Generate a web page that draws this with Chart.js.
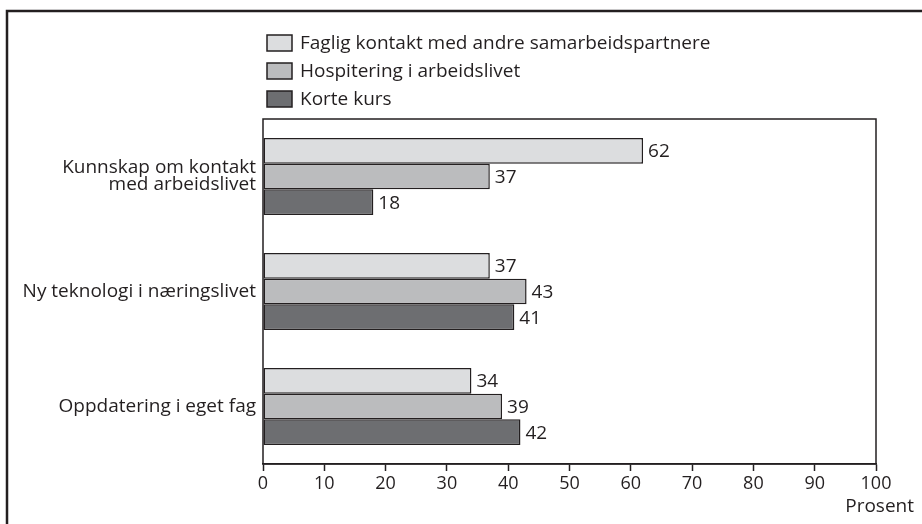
<!DOCTYPE html>
<html>
<head>
<meta charset="utf-8">
<script src="https://cdn.jsdelivr.net/npm/chart.js@4.4.0/dist/chart.umd.min.js"></script>
<style>
  html, body { margin: 0; padding: 0; background: #fff; }
  #wrap { width: 922px; height: 524px; }
</style>
</head>
<body>
<div id="wrap"><canvas id="chart" width="922" height="524"></canvas></div>
<script>
const categories = [['Kunnskap om kontakt', 'med arbeidslivet'], 'Ny teknologi i næringslivet', 'Oppdatering i eget fag'];
const seriesNames = ['Faglig kontakt med andre samarbeidspartnere', 'Hospitering i arbeidslivet', 'Korte kurs'];
const faglig = [62, 37, 34];
const hospitering = [37, 43, 39];
const korteKurs = [18, 41, 42];
const xMin = 0, xMax = 100, xStep = 10;
const axisTitle = 'Prosent';

const FONT = "'Open Sans', 'Noto Sans', sans-serif";
const INK = '#231f20';
const fills = ['#dcdddf', '#bbbcbe', '#6d6e71'];

// outer frame, plot box, legend, value labels, axis title
const decor = {
    id: 'decor',
    beforeDraw(chart) {
        const ctx = chart.ctx;
        ctx.save();
        ctx.strokeStyle = INK;
        ctx.lineWidth = 2.5;
        ctx.beginPath();
        ctx.moveTo(7, 524);
        ctx.lineTo(7, 11);
        ctx.lineTo(922, 11);
        ctx.stroke();
        ctx.restore();
    },
    afterDatasetsDraw(chart) {
        const ctx = chart.ctx;
        const a = chart.chartArea;
        ctx.save();
        ctx.strokeStyle = INK;
        ctx.lineWidth = 1.5;
        ctx.strokeRect(a.left, a.top, a.right - a.left, a.bottom - a.top);

        // value labels
        ctx.font = '19px ' + FONT;
        ctx.fillStyle = INK;
        ctx.textAlign = 'left';
        ctx.textBaseline = 'middle';
        chart.data.datasets.forEach((ds, i) => {
            chart.getDatasetMeta(i).data.forEach((bar, j) => {
                ctx.fillText(ds.data[j], bar.x + 5, bar.y + 1);
            });
        });

        // legend
        chart.data.datasets.forEach((ds, i) => {
            const cy = 43 + i * 28;
            ctx.fillStyle = ds.backgroundColor;
            ctx.fillRect(267, cy - 8, 25, 16);
            ctx.lineWidth = 1.5;
            ctx.strokeStyle = INK;
            ctx.strokeRect(267, cy - 8, 25, 16);
            ctx.fillStyle = INK;
            ctx.fillText(ds.label, 300, cy + 1);
        });

        // axis title
        ctx.textAlign = 'right';
        ctx.fillText(axisTitle, 914, 507);
        ctx.restore();
    }
};

new Chart(document.getElementById('chart'), {
    type: 'bar',
    data: {
        labels: categories,
        datasets: [
            { label: seriesNames[0], data: faglig, backgroundColor: fills[0] },
            { label: seriesNames[1], data: hospitering, backgroundColor: fills[1] },
            { label: seriesNames[2], data: korteKurs, backgroundColor: fills[2] }
        ]
    },
    options: {
        indexAxis: 'y',
        responsive: false,
        animation: false,
        layout: { padding: { top: 119, right: 46, left: 0, bottom: 0 } },
        datasets: {
            bar: {
                categoryPercentage: 0.67,
                barPercentage: 1.0,
                borderWidth: 1.5,
                borderColor: INK,
                borderSkipped: false
            }
        },
        plugins: {
            legend: { display: false },
            tooltip: { enabled: false }
        },
        scales: {
            x: {
                min: xMin,
                max: xMax,
                afterFit: (scale) => { scale.height = 60; },
                grid: { drawOnChartArea: false, tickLength: 7, tickColor: INK, tickWidth: 1.5 },
                border: { display: true, color: INK, width: 1.5 },
                ticks: {
                    stepSize: xStep,
                    padding: 2,
                    maxRotation: 0,
                    color: INK,
                    font: { family: FONT, size: 18 }
                }
            },
            y: {
                afterFit: (scale) => { scale.width = 263; },
                grid: { display: false, drawTicks: false },
                border: { display: false },
                ticks: {
                    padding: 7,
                    color: INK,
                    font: { family: FONT, size: 19, lineHeight: 0.9 }
                }
            }
        }
    },
    plugins: [decor]
});
</script>
</body>
</html>
